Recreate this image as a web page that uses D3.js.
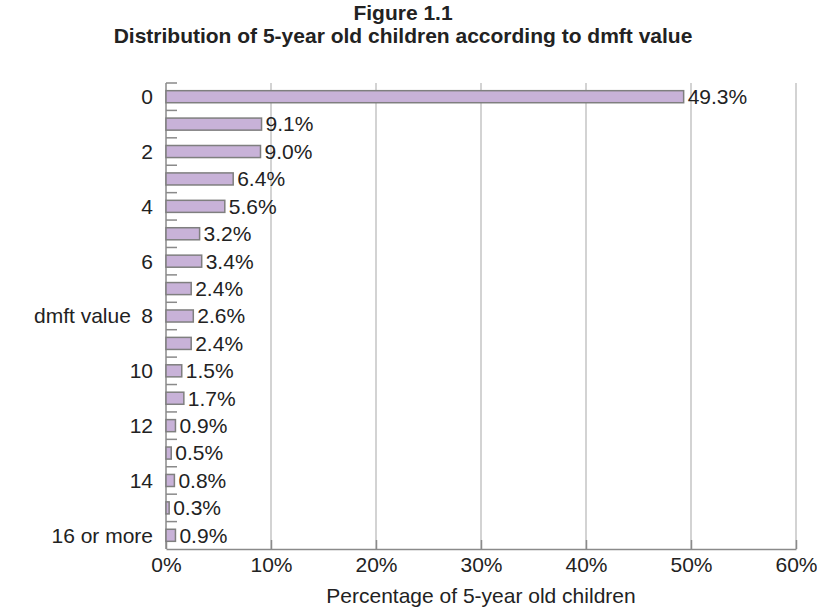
<!DOCTYPE html>
<html>
<head>
<meta charset="utf-8">
<script src="https://cdn.jsdelivr.net/npm/d3@7"></script>
<style>
  body { margin: 0; background: #fff; }
  svg { font-family: "Liberation Sans", Arial, sans-serif; }
</style>
</head>
<body>
<div id="chart"></div>
<script>
// dmft categories and share of 5-year olds (%)
const categories = ["0", "1", "2", "3", "4", "5", "6", "7", "8", "9", "10", "11", "12", "13", "14", "15", "16 or more"];
const values = [49.3, 9.1, 9.0, 6.4, 5.6, 3.2, 3.4, 2.4, 2.6, 2.4, 1.5, 1.7, 0.9, 0.5, 0.8, 0.3, 0.9];
const xTicks = [0, 10, 20, 30, 40, 50, 60];

const width = 817, height = 609;
const margin = {top: 83, right: 21, bottom: 60, left: 166};
const innerW = width - margin.left - margin.right;
const innerH = height - margin.top - margin.bottom;
const fs = "21px";

const svg = d3.select("#chart").append("svg")
    .attr("width", width)
    .attr("height", height);

// title
svg.append("text")
    .attr("x", 403).attr("y", 20)
    .attr("text-anchor", "middle")
    .style("font-weight", "bold").style("font-size", "21px").style("fill", "#222")
    .text("Figure 1.1");
svg.append("text")
    .attr("x", 403).attr("y", 43)
    .attr("text-anchor", "middle")
    .style("font-weight", "bold").style("font-size", "21px").style("fill", "#222")
    .text("Distribution of 5-year old children according to dmft value");

const g = svg.append("g").attr("transform", `translate(${margin.left},${margin.top})`);

const x = d3.scaleLinear().domain([0, 60]).range([0, innerW]);
const y = d3.scaleBand().domain(categories).range([0, innerH]).paddingInner(0.56).paddingOuter(0.28);

// gridlines
g.selectAll(".grid")
  .data(xTicks.slice(1))
  .enter().append("line")
    .attr("x1", d => x(d)).attr("x2", d => x(d))
    .attr("y1", 0).attr("y2", innerH)
    .style("stroke", "#c4c4c4").style("stroke-width", 1.5);

// x axis: inward ticks
const xAxis = g.append("g")
    .attr("transform", `translate(0,${innerH})`)
    .call(d3.axisBottom(x).tickValues(xTicks).tickFormat(d => d + "%").tickSizeInner(-9).tickSizeOuter(0).tickPadding(19));
xAxis.select(".domain").style("stroke", "#8a8a8a").style("stroke-width", 1.5);
xAxis.selectAll(".tick line").style("stroke", "#8a8a8a").style("stroke-width", 1.5);
xAxis.selectAll(".tick text").style("font-size", fs).style("fill", "#222").attr("dy", "0.2em");

// y axis: ticks at band boundaries, pointing right
const boundaries = d3.range(categories.length).map(i => i * (innerH / categories.length));
g.append("line")
    .attr("x1", 0).attr("x2", 0).attr("y1", 0).attr("y2", innerH)
    .style("stroke", "#8a8a8a").style("stroke-width", 1.5);
g.selectAll(".ytick")
  .data(boundaries)
  .enter().append("line")
    .attr("x1", 0).attr("x2", 11)
    .attr("y1", d => d).attr("y2", d => d)
    .style("stroke", "#8a8a8a").style("stroke-width", 1.5);

// category labels on every second row
g.selectAll(".ylab")
  .data(categories.filter((c, i) => i % 2 === 0))
  .enter().append("text")
    .attr("x", -13)
    .attr("y", d => y(d) + y.bandwidth() / 2)
    .attr("dy", "0.35em")
    .attr("text-anchor", "end")
    .style("font-size", fs).style("fill", "#222")
    .text(d => d);

// bars
g.selectAll(".bar")
  .data(values)
  .enter().append("rect")
    .attr("x", 0)
    .attr("y", (d, i) => y(categories[i]))
    .attr("width", d => x(d))
    .attr("height", y.bandwidth())
    .style("fill", "#c8b2d8")
    .style("stroke", "#7f7f7f")
    .style("stroke-width", 1.5);

// value labels
g.selectAll(".val")
  .data(values)
  .enter().append("text")
    .attr("x", d => x(d) + 4)
    .attr("y", (d, i) => y(categories[i]) + y.bandwidth() / 2)
    .attr("dy", "0.35em")
    .style("font-size", fs).style("fill", "#222")
    .text(d => d.toFixed(1) + "%");

// axis titles
svg.append("text")
    .attr("x", 34).attr("y", margin.top + y("8") + y.bandwidth() / 2)
    .attr("dy", "0.35em")
    .style("font-size", fs).style("fill", "#222")
    .text("dmft value");
svg.append("text")
    .attr("x", margin.left + innerW / 2).attr("y", 603)
    .attr("text-anchor", "middle")
    .style("font-size", fs).style("fill", "#222")
    .text("Percentage of 5-year old children");
</script>
</body>
</html>
